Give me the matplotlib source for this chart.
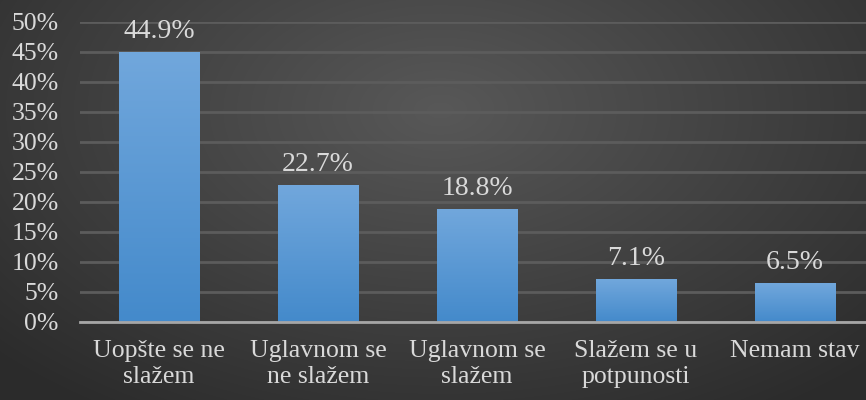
import numpy as np
import matplotlib.pyplot as plt
from matplotlib.ticker import FuncFormatter

categories = ["Uopšte se ne\nslažem", "Uglavnom se\nne slažem", "Uglavnom se\nslažem",
              "Slažem se u\npotpunosti", "Nemam stav"]
values = [44.9, 22.7, 18.8, 7.1, 6.5]
labels = ["44.9%", "22.7%", "18.8%", "7.1%", "6.5%"]

plt.rcParams['font.family'] = ['Liberation Serif', 'DejaVu Serif']
txt = "#d9d9d9"

fig = plt.figure(figsize=(8.66, 4), dpi=100)

# radial background
bg = fig.add_axes([0, 0, 1, 1], zorder=-10)
yy, xx = np.mgrid[0:400, 0:866]
d = np.sqrt(((xx - 440) / 866) ** 2 + ((yy - 110) / 400) ** 2 * 0.6)
g = np.clip(0.345 - 0.25 * d, 0.17, 0.35)
bg.imshow(np.dstack([g, g, g]), aspect="auto", extent=[0, 1, 0, 1], origin="upper")
bg.axis("off")

ax = fig.add_axes([79.5 / 866, 78 / 400, 795 / 866, 300 / 400])
ax.patch.set_alpha(0)
x = np.arange(len(values))
bars = ax.bar(x, values, width=0.505, color="none", zorder=3)

grad = np.linspace(0, 1, 100).reshape(-1, 1)
top = np.array([0x71, 0xa7, 0xdc]) / 255
bot = np.array([0x44, 0x8a, 0xcb]) / 255
img = top + (bot - top) * grad[..., None]
for b in bars:
    x0, w, h = b.get_x(), b.get_width(), b.get_height()
    ax.imshow(img, extent=[x0, x0 + w, 0, h], aspect="auto", zorder=3)

for xi, v, lab in zip(x, values, labels):
    ax.text(xi, v + 1.4, lab, ha="center", va="bottom", color=txt, fontsize=20)

ax.set_xlim(-0.5, 4.5)
ax.set_ylim(0, 50)
ax.set_yticks(np.arange(0, 51, 5))
ax.yaxis.set_major_formatter(FuncFormatter(lambda v, p: f"{int(v)}%"))
ax.set_xticks(x)
ax.set_xticklabels(categories)
ax.tick_params(colors=txt, labelsize=18.5, length=0)
ax.tick_params(axis="x", pad=13)
ax.tick_params(axis="y", pad=15)
for lab in ax.get_xticklabels():
    lab.set_linespacing(1.25)
ax.grid(axis="y", color="#5c5c5c", linewidth=2, zorder=0)
for s in ["top", "right", "left"]:
    ax.spines[s].set_visible(False)
ax.spines["bottom"].set_color("#a6a6a6")
ax.spines["bottom"].set_linewidth(2)
ax.spines["bottom"].set_zorder(4)

fig.savefig("out.png", dpi=100)
